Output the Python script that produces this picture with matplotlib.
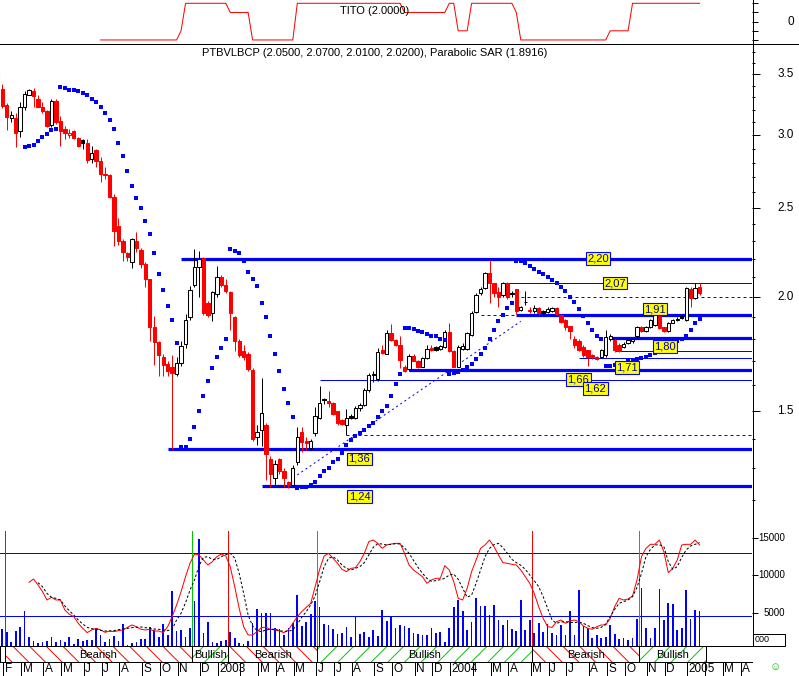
import numpy as np
import pandas as pd
import matplotlib
matplotlib.use('Agg')
import matplotlib.pyplot as plt
from matplotlib.patches import Rectangle
from matplotlib.ticker import NullFormatter

plt.rcParams['font.family'] = ['Liberation Sans', 'DejaVu Sans']
plt.rcParams['hatch.linewidth'] = 0.7

BLUE, RED, GREEN = '#0000ff', '#ff0000', '#00c800'

## DATA  (weekly bars, first bar = week ending 2002-01-25)
FIRST_BAR = '2002-01-25'

opens = [3.53, 3.37, 3.24, 3.13, 3.13, 3.03, 3.22, 3.32, 3.35, 3.29,
         3.22, 3.19, 3.08, 3.27, 3.11, 3.05, 3.00, 3.03, 2.98, 2.965,
         2.945, 2.83, 2.89, 2.81, 2.72, 2.715, 2.57, 2.39, 2.30, 2.23,
         2.18, 2.30, 2.25, 2.17, 2.09, 1.855, 1.786, 1.72, 1.69, 1.678,
         1.647, 1.692, 1.776, 1.902, 2.06, 2.154, 2.205, 1.97, 1.918, 2.014,
         2.10, 2.06, 2.025, 1.90, 1.79, 1.745, 1.73, 1.664, 1.407, 1.431,
         1.45, 1.33, 1.267, 1.33, 1.29, 1.255, 1.246, 1.32, 1.425, 1.39,
         1.366, 1.42, 1.473, 1.545, 1.537, 1.53, 1.50, 1.468, 1.449, 1.483,
         1.474, 1.511, 1.524, 1.582, 1.648, 1.626, 1.75, 1.731, 1.824, 1.794,
         1.771, 1.678, 1.667, 1.722, 1.703, 1.678, 1.713, 1.758, 1.762, 1.752,
         1.764, 1.828, 1.746, 1.678, 1.754, 1.754, 1.818, 1.925, 2.017, 2.043,
         2.124, 2.068, 2.025, 2.009, 2.068, 2.02, 2.037, 1.934, 1.975, 1.935,
         1.928, 1.943, 1.928, 1.925, 1.93, 1.945, 1.91, 1.886, 1.856, 1.80,
         1.79, 1.764, 1.749, 1.727, 1.72, 1.72, 1.727, 1.80, 1.794, 1.771,
         1.764, 1.779, 1.79, 1.81, 1.853, 1.835, 1.852, 1.863, 1.906, 1.852,
         1.837, 1.872, 1.886, 1.904, 1.886, 2.037, 1.995, 2.05]
highs = [3.60, 3.41, 3.25, 3.19, 3.17, 3.26, 3.35, 3.37, 3.38, 3.32,
         3.26, 3.20, 3.29, 3.29, 3.15, 3.07, 3.05, 3.04, 2.99, 2.97,
         2.97, 2.92, 2.90, 2.84, 2.77, 2.72, 2.59, 2.44, 2.31, 2.24,
         2.32, 2.355, 2.26, 2.18, 2.09, 1.906, 1.79, 1.73, 1.70, 1.727,
         1.72, 1.79, 1.915, 2.055, 2.254, 2.241, 2.21, 1.98, 2.03, 2.16,
         2.11, 2.09, 2.03, 1.905, 1.80, 1.77, 1.74, 1.67, 1.449, 1.63,
         1.455, 1.34, 1.327, 1.335, 1.30, 1.26, 1.31, 1.443, 1.443, 1.407,
         1.40, 1.517, 1.598, 1.55, 1.578, 1.535, 1.50, 1.47, 1.51, 1.49,
         1.52, 1.53, 1.59, 1.65, 1.66, 1.757, 1.77, 1.84, 1.868, 1.80,
         1.812, 1.685, 1.73, 1.73, 1.705, 1.72, 1.77, 1.77, 1.765, 1.77,
         1.84, 1.872, 1.75, 1.77, 1.78, 1.83, 1.93, 2.02, 2.05, 2.13,
         2.193, 2.07, 2.05, 2.073, 2.073, 2.03, 2.04, 1.955, 2.03, 1.95,
         1.96, 1.95, 1.935, 1.95, 1.95, 1.95, 1.915, 1.89, 1.86, 1.81,
         1.80, 1.77, 1.75, 1.73, 1.725, 1.755, 1.839, 1.82, 1.80, 1.78,
         1.785, 1.80, 1.80, 1.86, 1.86, 1.86, 1.89, 1.915, 1.91, 1.855,
         1.875, 1.89, 1.90, 1.91, 2.05, 2.05, 2.07, 2.07]
lows = [3.22, 3.21, 3.04, 3.10, 2.91, 2.99, 3.20, 3.32, 3.22, 3.22,
        3.17, 3.065, 3.06, 3.09, 2.92, 2.97, 2.98, 2.97, 2.91, 2.90,
        2.80, 2.80, 2.77, 2.67, 2.69, 2.565, 2.27, 2.28, 2.19, 2.19,
        2.15, 2.24, 2.15, 2.05, 1.79, 1.685, 1.64, 1.64, 1.64, 1.364,
        1.64, 1.68, 1.76, 1.886, 2.05, 2.0, 1.91, 1.90, 1.88, 2.0,
        2.05, 2.02, 1.84, 1.746, 1.72, 1.705, 1.66, 1.39, 1.378, 1.373,
        1.262, 1.24, 1.246, 1.28, 1.24, 1.238, 1.24, 1.31, 1.355, 1.361,
        1.36, 1.41, 1.47, 1.528, 1.517, 1.485, 1.449, 1.448, 1.413, 1.47,
        1.47, 1.50, 1.52, 1.575, 1.615, 1.62, 1.73, 1.73, 1.79, 1.765,
        1.671, 1.655, 1.66, 1.70, 1.67, 1.675, 1.71, 1.745, 1.745, 1.75,
        1.76, 1.74, 1.675, 1.675, 1.75, 1.75, 1.81, 1.92, 2.01, 2.04,
        1.967, 2.0, 1.95, 2.0, 1.99, 2.0, 1.915, 1.93, 1.96, 1.92,
        1.92, 1.91, 1.91, 1.92, 1.925, 1.91, 1.87, 1.84, 1.80, 1.76,
        1.745, 1.72, 1.68, 1.71, 1.705, 1.715, 1.72, 1.79, 1.74, 1.74,
        1.76, 1.775, 1.78, 1.80, 1.83, 1.83, 1.85, 1.86, 1.845, 1.83,
        1.83, 1.87, 1.88, 1.89, 1.88, 1.95, 1.99, 2.01]
closes = [3.24, 3.23, 3.14, 3.16, 3.02, 3.22, 3.33, 3.36, 3.31, 3.22,
          3.19, 3.07, 3.27, 3.10, 3.03, 3.02, 3.015, 2.98, 2.92, 2.945,
          2.82, 2.87, 2.81, 2.72, 2.715, 2.57, 2.36, 2.30, 2.24, 2.21,
          2.31, 2.26, 2.17, 2.09, 1.855, 1.786, 1.727, 1.685, 1.66, 1.65,
          1.692, 1.767, 1.886, 2.034, 2.154, 2.199, 1.918, 1.91, 2.022, 2.103,
          2.06, 2.03, 1.918, 1.79, 1.727, 1.72, 1.667, 1.397, 1.425, 1.492,
          1.347, 1.281, 1.313, 1.29, 1.267, 1.246, 1.30, 1.404, 1.387, 1.385,
          1.393, 1.483, 1.532, 1.541, 1.53, 1.49, 1.455, 1.452, 1.474, 1.476,
          1.511, 1.524, 1.582, 1.643, 1.644, 1.741, 1.735, 1.824, 1.794, 1.771,
          1.706, 1.66, 1.723, 1.703, 1.675, 1.713, 1.752, 1.75, 1.751, 1.767,
          1.828, 1.746, 1.678, 1.764, 1.768, 1.824, 1.918, 2.01, 2.037, 2.124,
          2.068, 2.017, 2.0, 2.068, 1.997, 2.015, 1.928, 1.95, 1.972, 1.93,
          1.943, 1.918, 1.92, 1.94, 1.945, 1.915, 1.876, 1.852, 1.835, 1.771,
          1.749, 1.727, 1.72, 1.717, 1.712, 1.749, 1.809, 1.81, 1.749, 1.745,
          1.778, 1.794, 1.797, 1.855, 1.835, 1.853, 1.886, 1.91, 1.85, 1.837,
          1.87, 1.886, 1.893, 1.895, 2.042, 1.992, 2.042, 2.02]

# Parabolic SAR, from bar 6 on
sar_first_bar = 6
sar = [2.91, 2.92, 2.93, 2.96, 2.99, 3.01, 3.04, 3.05,
       3.385, 3.377, 3.365, 3.36, 3.35, 3.34, 3.32, 3.29, 3.26, 3.22, 3.17,
       3.115, 3.05, 2.94, 2.85, 2.74, 2.64, 2.56, 2.50, 2.42, 2.34, 2.23,
       2.12, 2.034, 1.954, 1.886, 1.78,
       1.37, 1.37, 1.40, 1.44, 1.50, 1.56, 1.62, 1.67, 1.72, 1.76, 1.80,
       2.255, 2.245, 2.23, 2.19, 2.13, 2.09, 2.055, 1.97, 1.90, 1.81, 1.73,
       1.66, 1.585, 1.53, 1.48,
       1.237, 1.24, 1.24, 1.246, 1.257, 1.275, 1.29, 1.30, 1.32, 1.33, 1.35,
       1.378, 1.395, 1.41, 1.42, 1.431, 1.445, 1.457, 1.48, 1.50, 1.52, 1.56,
       1.605, 1.647,
       1.85, 1.85, 1.845, 1.835, 1.83, 1.82, 1.81, 1.81, 1.80, 1.795,
       1.645, 1.65, 1.655, 1.665, 1.675, 1.69, 1.71, 1.73, 1.76, 1.80, 1.84,
       1.88, 1.91, 1.945, 1.97,
       2.19, 2.185, 2.175, 2.16, 2.145, 2.13, 2.12, 2.10, 2.085, 2.07, 2.05,
       2.03, 2.0, 1.975, 1.94, 1.905, 1.87, 1.84, 1.81, 1.80,
       1.68, 1.682, 1.686, 1.69, 1.695, 1.70, 1.705, 1.71, 1.715, 1.72, 1.728,
       1.735, 1.745, 1.755, 1.765, 1.78, 1.79, 1.80, 1.81, 1.84, 1.87, 1.8916]

# support / resistance lines: (price, first bar, style)
levels = [(2.20, 41, 'thick'), (2.07, 114, 'thin'), (2.00, 117, 'dash'),
          (1.91, 108, 'dash'), (1.91, 116, 'thick'), (1.805, 137, 'thick'),
          (1.745, 138, 'thin'), (1.713, 130, 'thin'), (1.662, 92, 'thick'),
          (1.624, 72, 'thin'), (1.412, 78, 'dash'), (1.364, 38, 'thick'),
          (1.244, 59, 'thick')]
dash_end = {1.91: 116}
trend_bars = [67, 117]
trend_prices = [1.278, 1.88]

level_labels = ['2,20', '2,07', '1,91', '1,80', '1,71', '1,66', '1,62', '1,36', '1,24']
label_prices = [2.20, 2.07, 1.91, 1.805, 1.713, 1.662, 1.624, 1.364, 1.244]
label_bars = [134.3, 138.1, 147.0, 149.3, 140.8, 129.9, 133.7, 80.9, 80.9]
label_dy = [0, 0, -6, 9, 9, 9, 9, 10, 11]   # px below the line

# volume, from bar 1
volume = [2770, 2450, 1020, 2580, 3080, 5230, 1730, 1240, 890, 1100,
          1240, 1690, 1020, 1330, 1100, 1690, 750, 1470, 1240, 1330,
          1330, 2900, 2000, 1100, 1470, 1910, 1200, 3440, 660, 890,
          1020, 1470, 1470, 3040, 2670, 1780, 3480, 2000, 7920, 2540,
          2670, 1690, 2900, 6610, 14900, 2310, 3790, 1020, 970, 1200,
          1330, 2450, 1560, 970, 790, 1240, 3660, 5450, 5000, 4920,
          4920, 2900, 2770, 2000, 2900, 3660, 7380, 3210, 3790, 4830,
          6610, 5730, 3480, 3350, 2770, 2100, 2310, 3120, 1780, 4520,
          2100, 2370, 1780, 2670, 1910, 5360, 3920, 4460, 2900,
          3350, 3210, 2980, 2230, 2100, 2000, 2000, 2900, 2230, 2370,
          1100, 2900, 5810, 6710, 5270, 2670, 3750, 7020, 5900, 5900,
          4690, 6030, 4020, 3350, 4020, 2770, 2540, 6710, 2670, 4020,
          2310, 3570, 2370, 3440, 2310, 2000, 3350, 2000, 5230, 2000,
          8050, 3210, 2900, 1640, 2000, 1560, 1690, 3350, 2140, 1420,
          1640, 1330, 1640, 4150, 8280, 2980, 1560, 2980, 8190, 4020,
          6340, 6170, 2670, 2900, 8050, 4150, 5360, 5270]

# volume oscillator (thousands): red line from bar 7, dashed signal from bar 9
osc_first_bar = 7
osc = [9.08, 9.53, 8.72, 7.83, 6.71, 7.07, 6.71, 6.71, 5.36, 4.78,
       4.47, 3.57, 2.90, 2.32, 2.68, 2.90, 2.68, 2.36, 2.54, 2.45,
       2.59, 2.68, 3.03, 3.35, 3.12, 2.77, 2.68, 2.77, 2.54, 2.54,
       2.32, 3.12, 4.47, 6.04, 7.83, 9.84, 11.64, 12.89, 12.76, 12.08,
       11.41, 11.86, 12.53, 12.89, 12.62, 11.19, 8.50, 5.59, 3.12, 2.00,
       2.00, 2.45, 3.03, 3.03, 2.77, 2.68, 2.54, 2.32, 2.68, 3.57,
       4.47, 5.14, 5.72, 6.26, 8.50, 10.83, 12.62, 12.98, 12.31, 11.64,
       10.83, 10.52, 10.96, 11.05, 11.86, 12.98, 14.55, 14.77, 14.32, 13.65,
       14.10, 14.23, 14.32,
       14.32, 12.98, 11.41, 10.74, 10.29, 9.84, 8.95, 9.40, 9.62, 9.62,
       11.32, 10.74, 9.17, 6.93, 6.71, 8.28, 10.52, 12.08, 13.65, 14.10,
       14.77, 13.88, 12.76, 11.73, 11.64, 11.50, 11.41, 10.74, 9.84, 8.95,
       7.60, 5.81, 4.24, 3.12, 3.03, 3.80, 4.02, 3.57, 3.89, 4.02,
       3.80, 3.21, 2.90, 2.77, 3.12, 3.35, 3.35, 4.24, 5.81, 6.93,
       6.71, 6.84, 7.25, 9.40, 12.53, 13.65, 14.19, 14.19, 14.77, 13.20,
       10.38, 10.96, 12.08, 14.10, 14.19, 14.19, 14.77, 14.10]
sig_first_bar = 9
osc_signal = [9.04, 8.50, 7.60, 7.07, 6.93, 6.71, 5.90, 5.27, 4.69, 4.02,
              3.48, 3.03, 2.86, 2.77, 2.63, 2.54, 2.54, 2.59, 2.72, 2.81,
              2.90, 2.99, 3.03, 3.08, 2.99, 2.90, 2.81, 2.77, 2.68, 2.59,
              2.77, 4.02, 4.92, 6.35, 8.05, 9.40, 11.28, 12.44, 12.53, 12.17,
              12.17, 12.53, 12.80, 12.98, 12.35, 10.29, 7.60, 4.69, 3.21, 2.59,
              2.45, 2.68, 2.77, 2.77, 2.59, 2.50, 2.50, 2.68, 3.44, 4.38,
              5.14, 6.04, 7.25, 9.17, 11.19, 12.31, 12.53, 12.08, 11.41, 10.96,
              10.74, 10.96, 11.19, 11.73, 12.76, 13.79, 14.28, 14.23, 14.10, 14.19,
              14.28,
              14.23, 13.70, 12.98, 12.04, 11.10, 10.29, 9.62, 9.22, 9.31, 9.44,
              9.62, 10.07, 10.20, 9.49, 8.28, 7.07, 7.38, 8.95, 10.74, 12.53,
              13.65, 14.14, 14.32, 13.74, 12.98, 12.17, 11.73, 11.37, 10.83, 10.07,
              9.31, 8.50, 7.16, 5.59, 4.02, 3.57, 3.75, 3.80, 3.71, 3.66,
              3.75, 3.57, 3.26, 2.99, 2.90, 3.03, 3.48, 4.47, 5.45, 6.26,
              6.48, 6.71, 7.16, 8.41, 10.29, 12.53, 13.52, 14.10, 14.14, 13.88,
              11.86, 10.83, 11.19, 12.44, 13.43, 13.97, 14.19, 14.41]
vol_levels = [13000, 4500]

# TITO indicator, from bar 23
tito_first_bar = 23
tito = ([-2] * 18 + [-1] + [2] * 10 + [1] * 5 + [-2] * 10 + [2] * 24 + [1] * 10
        + [2] * 2 + [-1] * 3 + [2] * 10 + [1] + [-2] * 20 + [-1] * 5 + [2] * 16)

# trend signals: bar where each regime starts
signal_bars = [2, 44, 52, 72, 120, 144]
signal_names = ['Bearish', 'Bullish', 'Bearish', 'Bullish', 'Bearish', 'Bullish']
signal_end_bar = 159

## LAYOUT (pixels)
W, H = 799, 676
RIGHT = 752
BAR_PX, BAR0_PX = 4.47, -2.2
XLIM = (-BAR0_PX / BAR_PX, (RIGHT - BAR0_PX) / BAR_PX)

fig = plt.figure(figsize=(W / 100, H / 100), dpi=100)


def px_axes(x0, y0, x1, y1):
    a = fig.add_axes([x0 / W, 1 - y1 / H, (x1 - x0) / W, (y1 - y0) / H])
    a.set_xlim(*XLIM)
    a.patch.set_alpha(0)
    for s in a.spines.values():
        s.set_visible(False)
    a.set_xticks([])
    a.yaxis.tick_right()
    return a


def bar_px(i):
    return BAR0_PX + BAR_PX * i


LW = 0.72  # one pixel

# ---- TITO panel
tx = px_axes(0, 0, RIGHT, 44)
tx.set_ylim(-2.44, 2.36)
tx.plot(np.arange(len(tito)) + tito_first_bar, tito, color=RED, lw=LW)
tx.set_yticks([-2, -1, 0, 1, 2])
tx.yaxis.set_major_formatter(NullFormatter())
tx.tick_params(axis='y', length=4.3, width=LW, direction='out')
tx.text(1 + 42 / RIGHT, 0, '0', transform=tx.get_yaxis_transform(),
        ha='right', va='center', fontsize=8.5)

# ---- price panel
ax = px_axes(0, 44, RIGHT, 531)
ax.set_yscale('log')
ax.set_ylim(1.110, 3.774)
o, h, l, c = (np.array(v) for v in (opens, highs, lows, closes))
bars = np.arange(len(c))
prev = np.r_[o[0], c[:-1]]
col = np.where(c < prev, RED, 'black')
hollow = c > o
ax.vlines(bars, l, h, colors=col, lw=LW, zorder=3)
ax.bar(bars, np.abs(c - o), bottom=np.minimum(o, c), width=0.75,
       color=np.where(hollow, 'white', col), edgecolor=col, linewidth=0.75, zorder=4)
ax.plot(np.arange(len(sar)) + sar_first_bar, sar, 's', ms=2.4, mew=0,
        color=BLUE, zorder=5)

for price, start, style in levels:
    end = dash_end.get(price, XLIM[1]) if style == 'dash' else XLIM[1]
    if style == 'thick':
        ax.hlines(price, start, end, color=BLUE, lw=2.3, zorder=2)
    elif style == 'thin':
        ax.hlines(price, start, end, color=BLUE, lw=LW, zorder=2)
    else:
        ax.hlines(price, start, end, color=BLUE, lw=LW, linestyles=(0, (3, 3)), zorder=2)
ax.plot(trend_bars, trend_prices, color=BLUE, lw=LW, ls=(0, (2, 3)), zorder=2)

for txt, p, b, dy in zip(level_labels, label_prices, label_bars, label_dy):
    ax.annotate(txt, (b, p), xytext=(0, -dy * 0.72), textcoords='offset points',
                ha='center', va='center', fontsize=8, color='#0000a0', zorder=6,
                bbox=dict(boxstyle='square,pad=0.12', fc='#ffff00', ec=BLUE, lw=0.8))

ax.set_yticks([1.5, 2.0, 2.5, 3.0, 3.5])
ax.set_yticks([v / 10 for v in range(12, 38) if v % 5], minor=True)
ax.yaxis.set_major_formatter(NullFormatter())
ax.yaxis.set_minor_formatter(NullFormatter())
ax.tick_params(axis='y', which='major', length=5.8, width=LW, direction='out')
ax.tick_params(axis='y', which='minor', length=2.2, width=LW, direction='out')
for v in [1.5, 2.0, 2.5, 3.0, 3.5]:
    ax.text(1 + 42 / RIGHT, v, f'{v:.1f}', transform=ax.get_yaxis_transform(),
            ha='right', va='center', fontsize=8.5)

# ---- volume panel
vx = px_axes(0, 531, RIGHT, 646)
vx.set_ylim(524, 15980)
vx.bar(np.arange(len(volume)) + 1, volume, width=0.38, color=BLUE, zorder=2)
for lv in vol_levels:
    vx.axhline(lv, color=BLUE, lw=LW, zorder=1)
for b, name in zip(signal_bars, signal_names):
    vx.axvline(b - 0.5, color=RED if name == 'Bearish' else GREEN, lw=LW, zorder=1)
vx.plot(np.arange(len(osc)) + osc_first_bar, np.array(osc) * 1000, color=RED, lw=LW, zorder=3)
vx.plot(np.arange(len(osc_signal)) + sig_first_bar, np.array(osc_signal) * 1000,
        color='black', lw=LW, ls=(0, (2.5, 2)), zorder=3)
vx.set_yticks([5000, 10000, 15000])
vx.yaxis.set_major_formatter(NullFormatter())
vx.tick_params(axis='y', length=4.3, width=LW, direction='out')
for v in [5000, 10000, 15000]:
    vx.text(785 / RIGHT, v, str(v), transform=vx.get_yaxis_transform(),
            ha='right', va='center', fontsize=7)

# ---- bullish / bearish band
bx = px_axes(0, 646, RIGHT, 662)
bx.set_ylim(0, 1)
bx.set_yticks([])
edges = [b - 0.5 for b in signal_bars] + [signal_end_bar - 0.5]
for x0, x1, name in zip(edges[:-1], edges[1:], signal_names):
    bear = name == 'Bearish'
    bx.add_patch(Rectangle((x0, 0), x1 - x0, 1, fc='white', ec=RED if bear else GREEN,
                           lw=0, hatch='\\\\' if bear else '//'))
    bx.text((x0 + x1) / 2, 0.45, name, ha='center', va='center', fontsize=8)
for e in [0.5] + edges:
    bx.axvline(e, color='black', lw=LW)

# ---- overlay: frame, month axis, titles
ov = fig.add_axes([0, 0, 1, 1])
ov.set_xlim(0, W)
ov.set_ylim(H, 0)
ov.axis('off')
ov.patch.set_alpha(0)
k = dict(color='black', lw=LW)
ov.plot([0, W], [44, 44], **k)
ov.plot([RIGHT + 0.5, RIGHT + 0.5], [0, 646], **k)
ov.plot([0, RIGHT], [646, 646], **k)
ov.plot([0, RIGHT], [662, 662], **k)
ov.add_patch(Rectangle((RIGHT + 0.5, 634), 32, 11.5, fc='white', ec='black', lw=LW))
ov.text(755, 640, '000', fontsize=6.5, va='center', ha='left')
ov.text(775, 667.5, '\u263a', color='#00c000', fontsize=8, ha='center', va='center')

ov.text(375, 10.5, 'TITO (2.0000)', ha='center', va='center', fontsize=8)
ov.text(375, 53, 'PTBVLBCP (2.0500, 2.0700, 2.0100, 2.0200), Parabolic SAR (1.8916)',
        ha='center', va='center', fontsize=8)

dates = pd.date_range(FIRST_BAR, periods=172, freq='W-FRI')
last_year_label = False
for i in range(1, len(dates)):
    if dates[i].month == dates[i - 1].month:
        continue
    x = bar_px(i) + 1
    if x > RIGHT:
        break
    ov.plot([x, x], [662, 676], **k)
    m = dates[i].month
    if m == 1:
        lab = str(dates[i].year)
    elif m == 2 and last_year_label:
        lab = ''
    else:
        lab = 'JFMAMJJASOND'[m - 1]
    last_year_label = m == 1
    ov.text(x + 1.5, 669.5, lab, ha='left', va='center', fontsize=8.5)

fig.savefig('out.png', dpi=100)
